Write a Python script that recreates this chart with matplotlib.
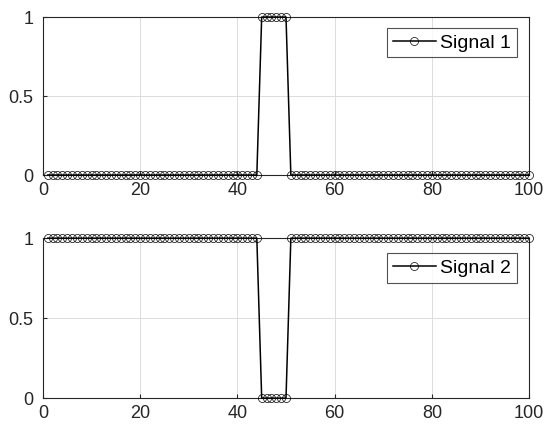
import matplotlib
matplotlib.use("Agg")
import matplotlib.pyplot as plt
import numpy as np

# sample index and the two signals
n = np.arange(1, 101)
signal1 = [0] * 44 + [1] * 6 + [0] * 50
signal2 = [1] * 44 + [0] * 6 + [1] * 50
labels = ["Signal 1", "Signal 2"]

plt.rcParams["font.family"] = ["Liberation Sans", "DejaVu Sans"]

fig = plt.figure(figsize=(5.5, 4.37), dpi=100)
ax1 = fig.add_axes([0.078, 0.5995, 0.884, 0.3615])
ax2 = fig.add_axes([0.078, 0.089, 0.884, 0.366])

for ax, sig, lab, ly in zip([ax1, ax2], [signal1, signal2], labels, [0.93, 0.905]):
    ax.plot(n, sig, color="black", lw=1.1, marker="o", markersize=5.8,
            markerfacecolor="none", markeredgewidth=0.5, label=lab,
            clip_on=False, zorder=3)
    ax.set_xlim(0, 100)
    ax.set_ylim(0, 1)
    ax.set_xticks([0, 20, 40, 60, 80, 100])
    ax.set_yticks([0, 0.5, 1])
    ax.set_yticklabels(["0", "0.5", "1"])
    ax.grid(True, color="#dcdcdc", lw=0.7)
    ax.set_axisbelow(True)
    ax.tick_params(direction="in", length=3, labelsize=13, colors="#262626",
                   top=False, right=False)
    ax.tick_params(axis="y", pad=7)
    ax.tick_params(axis="x", pad=5)
    for s in ax.spines.values():
        s.set_color("#262626")
        s.set_linewidth(0.8)
    leg = ax.legend(loc="upper right", fontsize=14, frameon=True, fancybox=False,
                    edgecolor="#262626", handlelength=2.25, borderpad=0.3,
                    handletextpad=0.2, borderaxespad=0,
                    bbox_to_anchor=(0.975, ly))
    leg.get_frame().set_linewidth(0.8)

fig.savefig("out.png", dpi=100)
